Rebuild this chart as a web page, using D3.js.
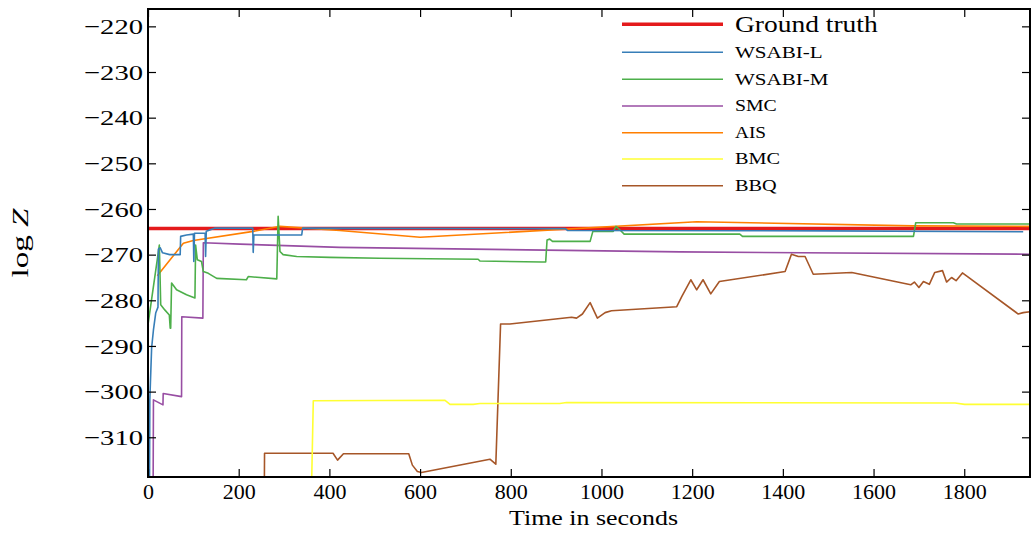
<!DOCTYPE html>
<html><head><meta charset="utf-8">
<script src="https://cdn.jsdelivr.net/npm/d3@7"></script>
<style>body{margin:0;background:#fff}svg{display:block}text{font-family:"Liberation Serif","DejaVu Serif",serif;fill:#000}</style>
</head><body>
<script>
const seriesNames = ["Ground truth","WSABI-L","WSABI-M","SMC","AIS","BMC","BBQ"];
const seriesColors = ["#e41a1c","#377eb8","#4daf4a","#984ea3","#ff7f00","#ffff33","#a65628"];
const xTicks = [0,200,400,600,800,1000,1200,1400,1600,1800];
const yTicks = [-220,-230,-240,-250,-260,-270,-280,-290,-300,-310];

const groundTruth = [[0,-264.3],[1945,-264.3]];
const wsabiL = [[3,-330],[4,-301.8],[8,-290.4],[12,-286.5],[17,-282.8],[22,-281.5],[23,-268.8],[27,-268.5],[32,-269.6],[48,-270.0],[71,-270.0],[72,-266.0],[85,-265.7],[100,-265.5],[101,-271.5],[102.5,-265.3],[126,-265.3],[127,-270.4],[128.5,-264.9],[147,-264.2],[231,-264.2],[232,-269.5],[233.5,-265.7],[339,-265.7],[341,-264.2],[920,-264.3],[925,-264.7],[1500,-264.8],[1930,-265.0]];
const wsabiM = [[0,-330],[0.5,-285],[25,-267.9],[28,-281],[37,-282.1],[47,-283.2],[49,-286.1],[50,-286.1],[52,-276.2],[63,-277.7],[85,-278.8],[103.5,-279.5],[105,-267.9],[108.7,-271.1],[118,-271.5],[122,-273.7],[133,-274.1],[151.5,-275.2],[217,-275.5],[221,-274.8],[284,-275.3],[287,-261.6],[291,-269.3],[298,-270.0],[328,-270.4],[401,-270.6],[511,-270.8],[728,-271.0],[732,-271.4],[868,-271.6],[877,-271.6],[880,-266.8],[886,-266.6],[892,-267.1],[975,-267.1],[981,-264.9],[1026,-264.9],[1032,-263.8],[1041,-264.6],[1050,-265.5],[1305,-265.5],[1311,-266.0],[1688,-266.0],[1693,-263.0],[1776,-263.0],[1783,-263.3],[1945,-263.3]];
const smc = [[11,-330],[12,-301.8],[33,-302.9],[33.5,-300.4],[74,-301.1],[74.5,-283.6],[121,-283.9],[122,-267.4],[203,-267.7],[423,-268.4],[1173,-269.4],[1945,-269.9]];
const ais = [[20.5,-274.6],[78,-267.5],[100,-266.9],[232,-264.9],[291,-263.8],[423,-264.7],[600,-266.2],[1210,-262.8],[1687,-263.7],[1945,-263.8]];
const bmc = [[358.8,-330],[364.5,-302.0],[655,-301.9],[666,-302.8],[717,-302.8],[732,-302.6],[908,-302.6],[923,-302.4],[1780,-302.5],[1801,-302.8],[1945,-302.8]];
const bbq = [[256,-330],[257,-313.5],[408,-313.5],[418,-315.0],[431,-313.6],[575,-313.6],[583,-316.1],[594,-317.5],[603,-317.7],[754,-314.8],[767,-315.9],[777.5,-285.2],[798,-285.2],[934,-283.7],[945,-283.9],[958,-283.0],[975,-280.5],[991,-283.9],[1008,-282.7],[1022,-282.3],[1166,-281.4],[1177,-279.2],[1197,-275.5],[1210,-277.7],[1224,-275.5],[1241,-278.6],[1260,-275.9],[1405,-273.7],[1419,-269.9],[1434,-270.4],[1449,-270.4],[1467,-274.3],[1552,-273.9],[1682,-276.6],[1690,-276.0],[1700,-277.2],[1710,-275.9],[1723,-276.5],[1735,-273.9],[1752,-273.5],[1761,-276.0],[1772,-275.0],[1782,-275.7],[1796,-274.0],[1919,-283.0],[1930,-282.7],[1945,-282.5]];

const seriesData = [groundTruth,wsabiL,wsabiM,smc,ais,bmc,bbq];

const W=1035,H=533;
const L=148,R=1030,T=9,B=477;
const svg=d3.select("body").append("svg").attr("width",W).attr("height",H);
const x=d3.scaleLinear().domain([0,1945]).range([L,R]);
const y=d3.scaleLinear().domain([-318.7,-216.2]).range([B,T]);

svg.append("clipPath").attr("id","clip").append("rect").attr("x",L).attr("y",T).attr("width",R-L).attr("height",B-T);
const line=d3.line().x(d=>x(d[0])).y(d=>y(d[1]));
const g=svg.append("g").attr("clip-path","url(#clip)");
const drawOrder=[0,6,5,3,4,2,1];
drawOrder.forEach(i=>{
  g.append("path").datum(seriesData[i]).attr("d",line).attr("fill","none")
   .attr("stroke",seriesColors[i]).attr("stroke-width",i===0?3.5:1.6).attr("stroke-linejoin","round");
});

const fmt=d=>d<0?"\u2212"+Math.abs(d):String(d);
function styleAxis(sel){
  sel.select(".domain").remove();
  sel.selectAll(".tick line").attr("stroke","#000").attr("stroke-width",1.2);
  sel.selectAll(".tick text").style("font-size","22px").style("font-family",'"Liberation Serif",serif');
}
const ax=svg.append("g").attr("transform",`translate(0,${B})`).call(d3.axisBottom(x).tickValues(xTicks).tickSize(-8).tickPadding(12).tickFormat(fmt));
styleAxis(ax); ax.selectAll(".tick text").attr("dy",null).attr("y",22);
const axT=svg.append("g").attr("transform",`translate(0,${T})`).call(d3.axisTop(x).tickValues(xTicks).tickSize(-8).tickFormat(""));
styleAxis(axT);
const ay=svg.append("g").attr("transform",`translate(${L},0)`).call(d3.axisLeft(y).tickValues(yTicks).tickSize(-8).tickPadding(5).tickFormat(fmt));
styleAxis(ay);
ay.selectAll(".tick text").attr("dy","0.32em").attr("x",-5/1.3).attr("transform","scale(1.3,1)");
const ayR=svg.append("g").attr("transform",`translate(${R},0)`).call(d3.axisRight(y).tickValues(yTicks).tickSize(-8).tickFormat(""));
styleAxis(ayR);

svg.append("rect").attr("x",L).attr("y",T).attr("width",R-L).attr("height",B-T).attr("fill","none").attr("stroke","#000").attr("stroke-width",2);

svg.append("text").attr("x",(509+678)/2).attr("y",525).attr("text-anchor","middle").style("font-size","22px")
  .attr("textLength",169).attr("lengthAdjust","spacingAndGlyphs").text("Time in seconds");
const yl=svg.append("text").attr("transform","translate(28,243) rotate(-90)").attr("text-anchor","middle").style("font-size","24px")
  .attr("textLength",69).attr("lengthAdjust","spacingAndGlyphs");
yl.append("tspan").text("log ");
yl.append("tspan").style("font-style","italic").text("Z");

const legY=[24.3,52.3,79.3,106,132.7,159,185.7];
const legW=[142.7,87.7,93.3,41.7,31,45,41.7];
seriesNames.forEach((n,i)=>{
  svg.append("line").attr("x1",622).attr("x2",723).attr("y1",legY[i]).attr("y2",legY[i])
    .attr("stroke",seriesColors[i]).attr("stroke-width",i===0?3.5:1.6);
  svg.append("text").attr("x",735).attr("y",legY[i]+(i===0?7.4:5.2))
    .style("font-size",i===0?"24px":"16px").attr("textLength",legW[i]).attr("lengthAdjust","spacingAndGlyphs").text(n);
});
</script>
</body></html>
